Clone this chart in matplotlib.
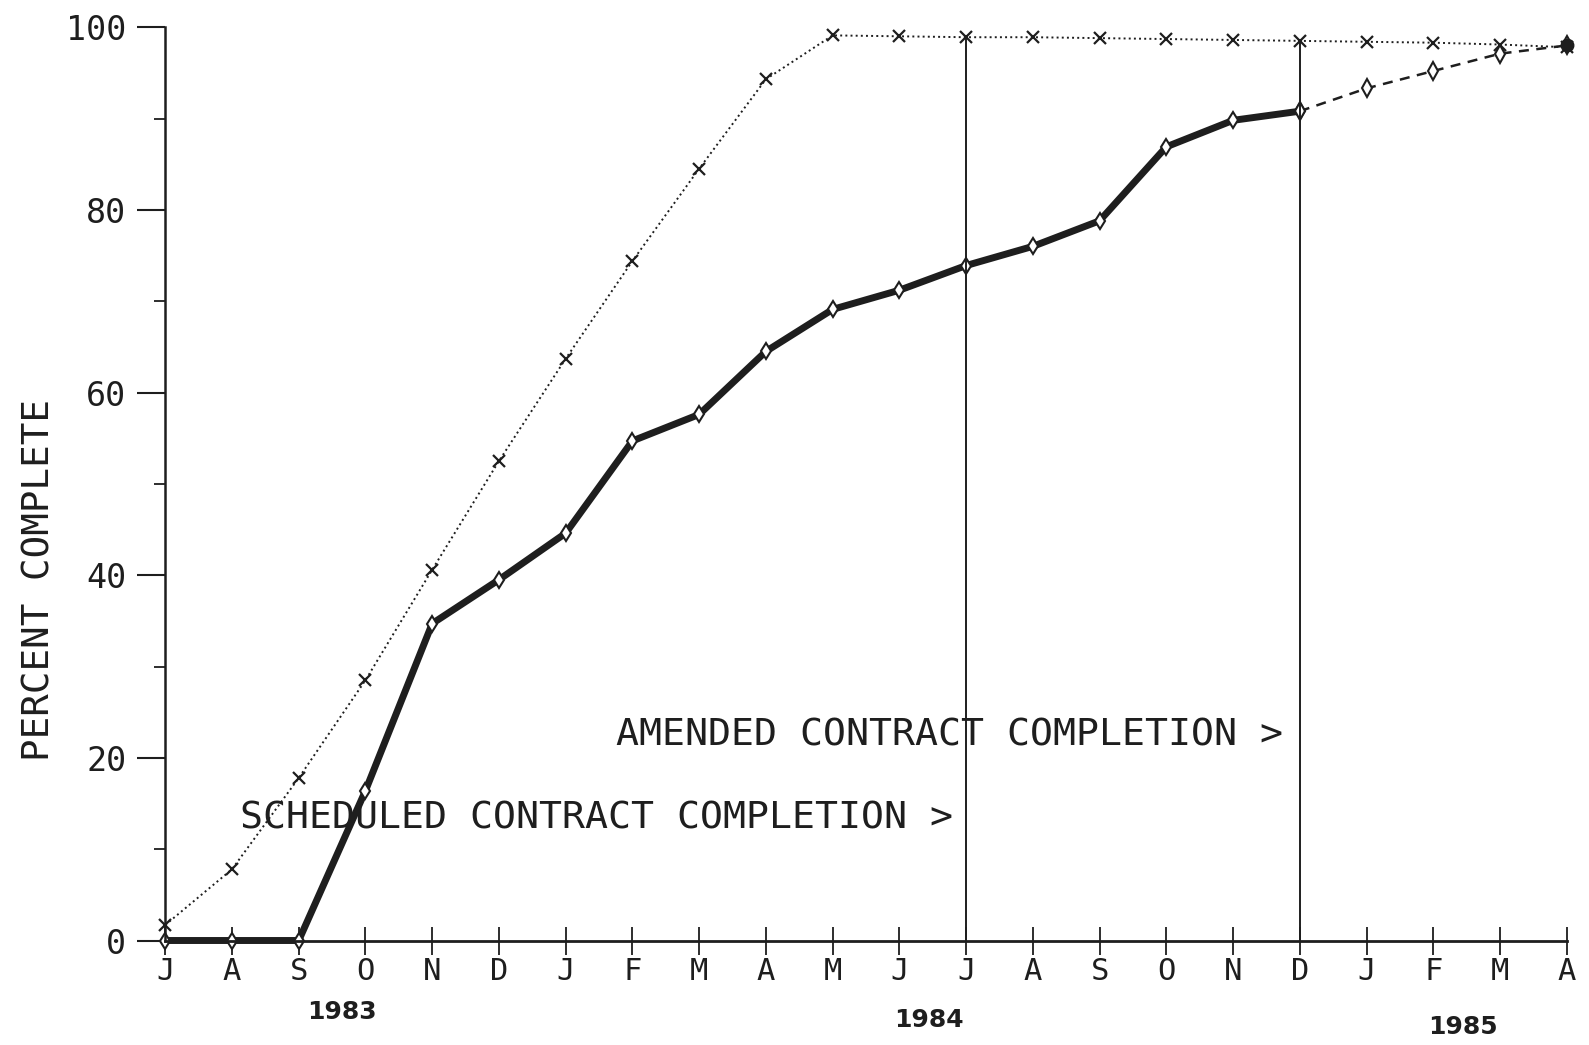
import numpy as np
import matplotlib.pyplot as plt

# months Jul 1983 .. Apr 1985
months = ["J", "A", "S", "O", "N", "D", "J", "F", "M", "A", "M",
          "J", "J", "A", "S", "O", "N", "D", "J", "F", "M", "A"]
years = ["1983", "1984", "1985"]
year_pos = [2.65, 11.45, 19.45]

scheduled = [1.7, 7.8, 17.8, 28.5, 40.6, 52.5, 63.7, 74.4, 84.5, 94.3, 99.1,
             99.0, 98.9, 98.9, 98.8, 98.7, 98.6, 98.5, 98.4, 98.3, 98.1, 97.8]
actual = [0, 0, 0, 16.4, 34.7, 39.5, 44.6, 54.7, 57.6, 64.5, 69.1,
          71.2, 73.9, 76.0, 78.8, 86.9, 89.8, 90.8]
projected = [90.8, 93.3, 95.2, 97.1, 98.0]

sched_done = 12   # JUL 84
amend_done = 17   # DEC 84

ink = "#1e1e1e"
mono = "DejaVu Sans Mono"

fig = plt.figure(figsize=(15.89, 10.45), dpi=100)
ax = fig.add_axes([0.104, 0.100, 0.882, 0.874])

x = np.arange(len(months))

ax.plot(x, scheduled, linestyle=":", color=ink, linewidth=1.4,
        marker="x", markersize=8, markeredgewidth=1.6, clip_on=False)
xa = np.arange(len(actual))
ax.plot(xa, actual, color=ink, linewidth=5, solid_joinstyle="round",
        solid_capstyle="round", clip_on=False)
ax.plot(xa, actual, linestyle="none", marker="d", markersize=8,
        markerfacecolor="white", markeredgecolor=ink, markeredgewidth=1.5, clip_on=False)
xp = np.arange(amend_done, amend_done + len(projected))
ax.plot(xp, projected, linestyle=(0, (4, 3)), color=ink, linewidth=1.8,
        marker="d", markersize=9, markerfacecolor="white",
        markeredgecolor=ink, markeredgewidth=1.5, clip_on=False)
ax.plot(xp[-1], projected[-1], marker="o", markersize=9, color=ink, clip_on=False)

# completion markers
ax.vlines([sched_done, amend_done], 0,
          [scheduled[sched_done], scheduled[amend_done]], color=ink, linewidth=1.4)

ax.text(sched_done - 0.2, 13.4, "SCHEDULED CONTRACT COMPLETION >", ha="right",
        va="center", fontsize=27.5, family=mono, color=ink)
ax.text(amend_done - 0.25, 22.4, "AMENDED CONTRACT COMPLETION >", ha="right",
        va="center", fontsize=27.5, family=mono, color=ink)

ax.set_xlim(0, 21)
ax.set_ylim(0, 100)
ax.set_xticks(x)
ax.set_xticklabels(months, family=mono, fontsize=22, color=ink)
ax.set_yticks(range(0, 101, 20))
ax.set_yticks(range(10, 100, 20), minor=True)
ax.set_yticklabels([str(v) for v in range(0, 101, 20)], family=mono,
                   fontsize=24, color=ink)
ax.tick_params(axis="x", direction="inout", length=20, width=1.3, pad=2, colors=ink)
ax.tick_params(axis="y", direction="out", length=20, width=1.5, pad=8, colors=ink)
ax.tick_params(axis="y", which="minor", direction="out", length=8, width=1.3, colors=ink)

for s in ["top", "right"]:
    ax.spines[s].set_visible(False)
ax.spines["left"].set_linewidth(1.8)
ax.spines["bottom"].set_linewidth(2)
ax.spines["left"].set_color(ink)
ax.spines["bottom"].set_color(ink)

for yr, pos, dy in zip(years, year_pos, [-0.078, -0.087, -0.095]):
    ax.text(pos, dy, yr, transform=ax.get_xaxis_transform(), ha="center",
            va="center", fontsize=18, fontweight="bold", color=ink)

fig.text(0.025, 0.445, "PERCENT COMPLETE", rotation=90, ha="center",
         va="center", fontsize=27, family=mono, color=ink)

plt.savefig("out.png")
